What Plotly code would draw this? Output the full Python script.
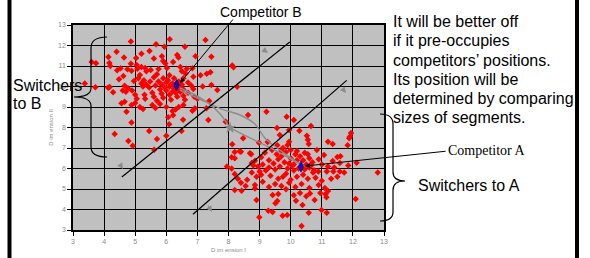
import plotly.graph_objects as go

# ---------------- data ----------------
seg_b = [
    (4.86, 12.19), (6.11, 12.30), (7.26, 12.27), (5.67, 12.06), (5.94, 11.94), (6.60, 11.94), (5.46, 11.73),
    (3.74, 11.13), (4.14, 11.44), (4.64, 11.42), (5.03, 11.39), (5.60, 11.37), (5.86, 11.47), (6.39, 11.41),
    (6.35, 11.54), (6.94, 11.47), (7.45, 11.45), (4.17, 11.15), (4.20, 11.00), (4.86, 11.11), (5.90, 11.25),
    (5.97, 11.12), (6.22, 11.20), (8.12, 11.03), (8.16, 10.94),
    (4.42, 10.79), (4.53, 10.89), (4.75, 10.84), (4.88, 10.77), (5.07, 10.87), (5.20, 10.95), (5.32, 10.90),
    (5.36, 10.74), (5.50, 10.80), (5.75, 10.85), (6.02, 10.90), (6.45, 10.95), (6.50, 10.75), (6.62, 10.64),
    (6.66, 10.86), (6.84, 10.89), (7.10, 10.55), (7.30, 10.62), (7.42, 10.70), (6.87, 10.48),
    (4.62, 10.51), (4.48, 10.35), (4.66, 10.04), (4.77, 9.91), (4.96, 10.27), (5.15, 10.56), (5.20, 10.15),
    (5.28, 10.30), (5.25, 10.00), (5.35, 10.10), (5.60, 10.45), (5.70, 10.60), (5.75, 10.25), (5.65, 10.05),
    (5.85, 10.10), (5.90, 10.40), (5.95, 9.95), (6.05, 10.30), (6.10, 10.55), (6.20, 10.15), (6.25, 10.40),
    (6.40, 10.25), (6.50, 10.10), (6.55, 10.40), (6.70, 10.20), (6.80, 10.05), (7.17, 10.00), (7.45, 10.07),
    (8.28, 9.99), (3.38, 10.15), (3.72, 9.96), (4.13, 9.94), (4.18, 9.97),
    (6.87, 9.88), (7.64, 9.83), (4.29, 9.72), (4.60, 9.80), (4.70, 9.75), (5.00, 9.60), (5.05, 9.40),
    (5.30, 9.60), (5.32, 9.40), (5.55, 9.70), (5.60, 9.50), (5.70, 9.30), (5.85, 9.65), (5.90, 9.45),
    (6.00, 9.80), (6.10, 9.60), (6.15, 9.35), (6.30, 9.70), (6.35, 9.50), (6.45, 9.75), (6.55, 9.55),
    (6.60, 9.35), (6.70, 9.70), (6.90, 9.50), (7.00, 9.40), (7.38, 9.29), (4.56, 9.18), (4.66, 9.26),
    (4.88, 9.10), (5.00, 9.20), (5.15, 9.00), (5.25, 8.90), (5.55, 9.10), (5.65, 8.95), (5.80, 9.15),
    (6.00, 9.00), (6.40, 9.00), (6.30, 8.88), (6.20, 8.80), (6.55, 9.10), (6.92, 8.94), (7.29, 8.94),
    (4.72, 8.77), (6.06, 8.50), (6.84, 8.82), (6.22, 8.60), (6.54, 8.38), (7.35, 8.37), (4.88, 8.24),
    (6.09, 8.16), (4.34, 7.68), (4.78, 7.34), (4.92, 7.11), (5.45, 7.83), (5.70, 7.44), (5.61, 6.92),
    (6.00, 7.60), (6.49, 7.83), (6.10, 10.00), (6.25, 9.90), (6.40, 9.85), (6.15, 10.10), (6.35, 10.15),
    (6.00, 10.20), (6.45, 9.95), (6.20, 9.75), (5.80, 9.85), (6.55, 9.85), (3.60, 11.20), (4.40, 11.70),
    (5.20, 11.60), (5.10, 10.40), (4.90, 9.80), (5.45, 9.95), (5.48, 10.25), (5.05, 11.05),
]

seg_a = [
    (8.63, 8.61), (9.22, 8.77), (9.87, 8.53), (10.10, 8.37), (10.65, 8.07), (7.91, 8.28), (9.56, 7.98),
    (9.65, 7.63), (9.95, 7.88), (10.28, 7.84), (10.52, 7.60), (10.55, 7.40), (10.58, 7.20), (11.94, 7.73),
    (11.90, 7.55), (11.88, 7.47), (8.47, 7.47), (8.12, 7.18), (8.98, 7.26), (9.26, 7.29), (9.57, 7.14),
    (9.90, 7.15), (9.95, 7.30), (9.75, 7.00), (11.35, 7.20), (11.20, 7.30), (11.83, 7.14), (10.84, 6.90),
    (10.45, 6.77), (11.07, 6.66), (11.50, 6.56), (11.35, 6.37), (11.58, 6.27), (12.12, 6.28), (8.36, 6.84),
    (8.20, 6.80), (8.20, 6.50), (8.73, 6.70), (9.17, 6.77), (8.40, 6.82), (8.69, 6.74), (8.10, 6.55),
    (9.40, 6.90), (9.55, 6.70), (9.70, 6.60), (9.85, 6.80), (10.00, 6.90), (10.15, 6.70), (9.60, 6.45),
    (9.80, 6.30), (10.00, 6.50), (10.20, 6.40), (10.30, 6.60), (10.60, 6.50), (10.70, 6.30), (10.50, 6.20),
    (10.90, 6.45), (11.00, 6.20), (11.20, 6.10), (8.75, 6.27), (8.85, 6.38), (8.80, 6.15), (7.95, 6.10),
    (8.10, 6.00), (8.20, 5.73), (9.10, 6.20), (9.30, 6.05), (9.45, 6.25), (9.20, 5.90), (9.50, 5.95),
    (9.65, 6.10), (9.90, 6.00), (10.05, 6.15), (10.10, 5.90), (9.85, 5.75), (10.60, 6.05), (10.75, 5.92),
    (10.72, 5.80), (10.89, 5.85), (11.16, 5.85), (11.37, 5.85), (11.58, 5.85), (11.72, 5.80), (12.80, 5.81),
    (8.75, 5.80), (8.90, 5.60), (9.05, 5.70), (9.35, 5.65), (9.60, 5.50), (9.75, 5.60), (10.00, 5.45),
    (10.20, 5.60), (10.40, 5.70), (10.55, 5.50), (10.80, 5.55), (11.00, 5.40), (11.30, 5.50), (11.50, 5.60),
    (8.60, 5.45), (8.40, 5.30), (8.30, 5.50), (8.55, 5.15), (8.85, 5.20), (9.10, 5.35), (9.30, 5.10),
    (9.50, 5.25), (9.70, 5.15), (9.95, 5.30), (10.15, 5.10), (10.35, 5.25), (10.60, 5.05), (10.90, 5.20),
    (11.10, 5.05), (11.20, 4.90), (8.20, 4.95), (8.42, 4.92), (8.85, 5.03), (8.90, 4.46), (9.42, 4.71),
    (9.60, 4.76), (9.85, 4.99), (10.10, 4.70), (10.30, 4.80), (10.50, 4.65), (10.62, 4.78), (10.95, 4.80),
    (11.12, 4.75), (11.15, 4.60), (9.57, 4.41), (9.51, 4.30), (10.17, 4.43), (10.38, 4.22), (10.77, 4.46),
    (12.09, 4.51), (9.28, 3.94), (9.42, 3.88), (9.74, 3.70), (9.89, 3.73), (8.99, 3.62), (10.58, 3.84),
    (10.99, 3.98), (11.16, 3.84), (10.35, 3.20),
    (10.10, 6.20), (10.25, 6.00), (10.45, 5.95), (10.40, 6.40), (9.95, 6.25), (10.55, 6.70), (10.20, 6.85),
    (9.70, 6.85), (10.65, 6.15), (11.40, 6.05), (11.85, 6.15), (11.60, 6.60), (9.30, 6.40), (9.05, 6.55),
    (8.95, 6.10), (9.00, 5.85),
]

comp_labels = ["Competitor B", "Competitor A"]
comp_x = [6.33, 10.33]
comp_y = [10.07, 6.09]

# segment boundary lines (start, end)
boundary1_x = [4.57, 9.97]
boundary1_y = [5.59, 12.17]
boundary2_x = [6.86, 11.80]
boundary2_y = [3.77, 10.30]

# sketched movement paths (grey)
path1_x = [6.43, 6.92, 7.34, 7.73, 8.05]
path1_y = [9.93, 9.59, 9.20, 8.66, 7.98]
path2_x = [6.43, 7.07, 7.78, 8.37, 8.85, 9.17, 9.65, 10.29]
path2_y = [9.83, 9.39, 8.90, 8.61, 8.17, 7.49, 6.90, 6.22]
path3_x = [8.05, 8.69, 9.49, 10.23]
path3_y = [7.98, 7.49, 6.90, 6.27]
mid_x = [8.05]
mid_y = [7.98]

tick_vals = list(range(3, 14))

right_text = ["It will be better off", "if it pre-occupies", "competitors\u2019 positions.",
              "Its position will be", "determined by comparing", "sizes of segments."]

# ---------------- layout geometry helpers ----------------
W, H = 590, 258
L, R, T, B = 73, 206, 25, 28
PW, PH = W - L - R, H - T - B


def px(x):
    return (x - L) / PW


def py(y):
    return (H - B - y) / PH


fig = go.Figure()

fig.add_trace(go.Scatter(x=[p[0] for p in seg_b], y=[p[1] for p in seg_b], mode="markers",
                         marker=dict(symbol="diamond", size=5, color="#FF0000"), showlegend=False))
fig.add_trace(go.Scatter(x=[p[0] for p in seg_a], y=[p[1] for p in seg_a], mode="markers",
                         marker=dict(symbol="diamond", size=5, color="#FF0000"), showlegend=False))

for xs, ys in [(path1_x, path1_y), (path2_x, path2_y), (path3_x, path3_y)]:
    fig.add_trace(go.Scatter(x=xs, y=ys, mode="lines", line=dict(color="#8c8c8c", width=1.4, shape="spline"),
                             showlegend=False))
fig.add_trace(go.Scatter(x=mid_x, y=mid_y, mode="markers",
                         marker=dict(symbol="star", size=9, color="#888888"), showlegend=False))

for xs, ys in [(boundary1_x, boundary1_y), (boundary2_x, boundary2_y)]:
    fig.add_trace(go.Scatter(x=xs, y=ys, mode="lines", line=dict(color="black", width=1.2), showlegend=False))

fig.add_trace(go.Scatter(x=comp_x, y=comp_y, mode="markers",
                         marker=dict(symbol="diamond-tall", size=8, color="#1010C8",
                                     line=dict(color="#000060", width=0.6)), showlegend=False))

annotations = []
# arrows to competitors
annotations.append(dict(x=6.44, y=10.17, ax=8.18, ay=13.34, xref="x", yref="y", axref="x", ayref="y",
                        text="", showarrow=True, arrowhead=2, arrowsize=1, arrowwidth=1, arrowcolor="black"))
annotations.append(dict(x=10.46, y=6.12, ax=15.03, ay=6.85, xref="x", yref="y", axref="x", ayref="y",
                        text="", showarrow=True, arrowhead=2, arrowsize=1, arrowwidth=1, arrowcolor="black"))
# small grey arrows
for hx, hy, tx, ty in [(268, 53, 264, 50), (346, 93, 342, 88), (212, 212, 207, 204), (123, 169, 121, 166)]:
    annotations.append(dict(x=px(hx), y=py(hy), ax=tx - hx, ay=ty - hy, xref="paper", yref="paper",
                            axref="pixel", ayref="pixel", text="", showarrow=True, arrowhead=2,
                            arrowsize=1, arrowwidth=1.2, arrowcolor="#8c8c8c"))

sans = "Liberation Sans, Arial, sans-serif"
annotations.append(dict(x=px(218), y=py(12.5), xref="paper", yref="paper", xanchor="left", yanchor="middle",
                        text="Competitor B", showarrow=False, font=dict(family=sans, size=14, color="black")))
annotations.append(dict(x=px(446), y=py(150.5), xref="paper", yref="paper", xanchor="left", yanchor="middle",
                        text="Competitor A", showarrow=False,
                        font=dict(family="Liberation Serif, Times New Roman, serif", size=14, color="black")))
for i, line in enumerate(right_text):
    annotations.append(dict(x=px(391), y=py(21.5 + 19.3 * i), xref="paper", yref="paper", xanchor="left",
                            yanchor="middle", text=line, showarrow=False,
                            font=dict(family=sans, size=16, color="black")))
annotations.append(dict(x=px(416), y=py(185), xref="paper", yref="paper", xanchor="left", yanchor="middle",
                        text="Switchers to A", showarrow=False, font=dict(family=sans, size=16, color="black")))
annotations.append(dict(x=px(11), y=py(85), xref="paper", yref="paper", xanchor="left", yanchor="middle",
                        text="Switchers", showarrow=False, font=dict(family=sans, size=16, color="black")))
annotations.append(dict(x=px(11), y=py(103.5), xref="paper", yref="paper", xanchor="left", yanchor="middle",
                        text="to B", showarrow=False, font=dict(family=sans, size=16, color="black")))


def brace_path(pts):
    s = "M {} {}".format(px(pts[0][0]), py(pts[0][1]))
    i = 1
    while i < len(pts):
        cmd = pts[i][2] if len(pts[i]) > 2 else "L"
        if cmd == "Q":
            s += " Q {} {} {} {}".format(px(pts[i][0]), py(pts[i][1]), px(pts[i + 1][0]), py(pts[i + 1][1]))
            i += 2
        else:
            s += " L {} {}".format(px(pts[i][0]), py(pts[i][1]))
            i += 1
    return s


left_brace = [(107, 37), (91, 37, "Q"), (91, 48), (91, 88), (91, 97, "Q"), (74, 97), (91, 97, "Q"), (91, 106),
              (91, 147), (91, 157, "Q"), (107, 157)]
right_brace = [(380, 114), (393, 114, "Q"), (393, 124), (393, 172), (393, 181, "Q"), (405, 181),
               (393, 181, "Q"), (393, 190), (393, 212), (393, 221, "Q"), (380, 221)]

shapes = [
    dict(type="path", xref="paper", yref="paper", path=brace_path(left_brace), line=dict(color="black", width=1.2)),
    dict(type="path", xref="paper", yref="paper", path=brace_path(right_brace), line=dict(color="black", width=1.2)),
    dict(type="line", xref="paper", yref="paper", x0=px(9.5), x1=px(9.5), y0=py(-5), y1=py(H + 5),
         line=dict(color="black", width=4)),
    dict(type="line", xref="paper", yref="paper", x0=px(577), x1=px(577), y0=py(-5), y1=py(H + 5),
         line=dict(color="black", width=4)),
]

axis_common = dict(range=[3, 13], tickvals=tick_vals, showgrid=True, gridcolor="black", gridwidth=1.3,
                   zeroline=False, showline=True, linecolor="black", linewidth=1.5, mirror=True,
                   ticks="outside", ticklen=4, tickcolor="black", tickwidth=1, automargin=False,
                   tickfont=dict(family=sans, size=7, color="#8a8a8a"))

fig.update_layout(
    width=W, height=H, margin=dict(l=L, r=R, t=T, b=B, autoexpand=False), paper_bgcolor="white",
    plot_bgcolor="#C0C0C0",
    xaxis=dict(**axis_common, title=dict(text="D im ension I", font=dict(family=sans, size=6, color="#8a8a8a"),
                                         standoff=4)),
    yaxis=dict(**axis_common, title=dict(text="D im ension II", font=dict(family=sans, size=6, color="#8a8a8a"),
                                         standoff=4)),
    annotations=annotations, shapes=shapes, showlegend=False,
)

fig.write_html("out.html", config={"displayModeBar": False},
               post_script="document.body.style.margin='0';document.body.style.overflow='hidden';")
